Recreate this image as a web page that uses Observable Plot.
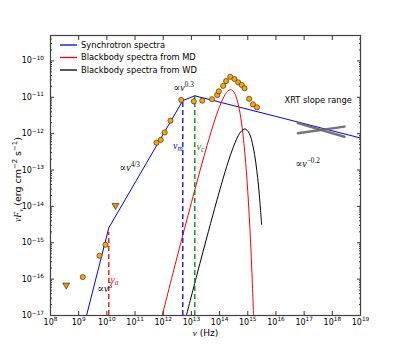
<!DOCTYPE html>
<html><head><meta charset="utf-8">
<script src="https://cdn.jsdelivr.net/npm/d3@7"></script>
<script src="https://cdn.jsdelivr.net/npm/@observablehq/plot@0.6"></script>
<style>body{margin:0;background:#fff}</style>
</head><body><div id="chart"></div>
<script>
// ---------- values ----------
// synchrotron broken power law (break points)
const syncNu   = [1.9e9, 1.17e10, 4.95e12, 1.32e13, 1e19];
const syncFlux = [1e-17, 2.57e-15, 8.13e-12, 1.10e-11, 7.6e-13];

// blackbody from MD (red)
const mdNu   = [9.2e11, 3.16e12, 1e13, 2.51e13, 5.01e13, 7.94e13, 1e14, 1.26e14, 1.58e14, 1.78e14, 2.0e14, 2.51e14, 3.16e14, 3.55e14, 3.98e14, 5.01e14, 6.31e14, 7.08e14, 7.94e14, 8.91e14, 1e15, 1.12e15, 1.26e15, 1.41e15, 1.58e15, 1.62e15];
const mdFlux = [1e-17, 4.25e-16, 1.27e-14, 1.77e-13, 1.13e-12, 3.43e-12, 5.58e-12, 8.55e-12, 1.20e-11, 1.37e-11, 1.51e-11, 1.62e-11, 1.42e-11, 1.22e-11, 9.64e-12, 4.68e-12, 1.48e-12, 6.84e-13, 2.72e-13, 9.25e-14, 2.58e-14, 5.81e-15, 1.04e-15, 1.42e-16, 1.44e-17, 1e-17];

// blackbody from WD (black)
const wdNu   = [6.62e12, 1.58e13, 3.98e13, 7.94e13, 1.58e14, 2.51e14, 3.98e14, 5.62e14, 7.94e14, 1.12e15, 1.58e15, 2.24e15, 2.63e15, 3.09e15];
const wdFlux = [1e-17, 1.34e-16, 2.0e-15, 1.43e-14, 9.14e-14, 2.78e-13, 6.98e-13, 1.12e-12, 1.35e-12, 1.03e-12, 4.06e-13, 6.18e-14, 1.67e-14, 3.21e-15];

// observed fluxes (orange circles)
const obsNu   = [1.40e9, 5.48e9, 8.95e9, 5.78e11, 8.20e11, 1.13e12, 1.81e12, 4.35e12, 1.22e13, 2.42e13, 5.38e13, 8.22e13, 9.38e13, 1.34e14, 1.70e14, 2.38e14, 3.38e14, 4.58e14, 6.10e14, 7.66e14, 1.12e15, 1.53e15, 2.13e15];
const obsFlux = [1.14e-16, 4.40e-16, 8.83e-16, 5.65e-13, 6.75e-13, 1.08e-12, 2.28e-12, 8.45e-12, 7.74e-12, 8.09e-12, 8.85e-12, 1.16e-11, 1.46e-11, 2.06e-11, 2.80e-11, 3.66e-11, 3.16e-11, 2.58e-11, 2.19e-11, 1.77e-11, 9.08e-12, 6.37e-12, 5.30e-12];

// upper limits (down triangles)
const limNu   = [3.61e8, 2.03e10];
const limFlux = [6.87e-17, 1.06e-14];

// XRT slope range (two grey segments)
const xrtNu   = [5.97e16, 2.71e18];
const xrtHard = [1.95e-12, 8.26e-13];
const xrtSoft = [1.03e-12, 1.56e-12];

// characteristic frequencies (dashed verticals)
const breakNames = ["a", "m", "c"];
const breakNu    = [1.17e10, 4.95e12, 1.32e13];
const breakTop   = [1.95e-15, 8.13e-12, 1.10e-11];

// annotations
const annText = ["∝$ν$^{0.3}", "∝$ν$^{4/3}", "$ν$_{$m$}", "$ν$_{$c$}", "$ν$_{$a$}", "∝$ν$^{3}", "XRT slope range", "∝$ν$^{−0.2}"];
const annNu   = [2.32e12, 2.81e10, 2.22e12, 1.52e13, 1.35e10, 4.54e9, 2.01e16, 4.94e16];
const annFlux = [1.85e-11, 1.16e-13, 4.68e-13, 4.39e-13, 9.59e-17, 5.43e-17, 8.09e-12, 1.47e-13];

// axes
const xTicks = [1e8, 1e9, 1e10, 1e11, 1e12, 1e13, 1e14, 1e15, 1e16, 1e17, 1e18, 1e19];
const yTicks = [1e-17, 1e-16, 1e-15, 1e-14, 1e-13, 1e-12, 1e-11, 1e-10];
const xDomain = [1e8, 1e19];
const yDomain = [1e-17, 5e-10];
const legendLabels = ["Synchrotron spectra", "Blackbody spectra from MD", "Blackbody spectra from WD"];

// ---------- styles ----------
const C_SYNC = "#0000ff", C_MD = "#ff0000", C_WD = "#000000";
const breakColor = {a: "#ff0000", m: "#0000ff", c: "#008000"};
const annColor = ["#000", "#000", "#0000ff", "#008000", "#ff0000", "#000", "#000", "#000"];
const legendColors = [C_SYNC, C_MD, C_WD];
const SERIF = "Liberation Serif, DejaVu Serif, serif";

const rows = (xs, ys) => xs.map((x, i) => ({x, y: ys[i]}));
const yMinor = [];
for (let e = -17; e <= -10; e++) for (let m = 2; m <= 9; m++) { const v = m * 10 ** e; if (v < yDomain[1]) yMinor.push(v); }

const fmtPow = d => { const e = Math.round(Math.log10(d)); return `10^{${e < 0 ? "\u2212" + (-e) : e}}`; };
const blank = () => "";

const annRows = annText.map((t, i) => ({t, x: annNu[i], y: annFlux[i], c: annColor[i], serif: !t.startsWith("XRT")}));
const breakRows = breakNames.map((n, i) => ({n, x: breakNu[i], y2: breakTop[i], y1: yDomain[0]}));

const chart = Plot.plot({
  width: 400, height: 350,
  marginLeft: 50, marginRight: 40, marginTop: 35, marginBottom: 35,
  x: {type: "log", domain: xDomain},
  y: {type: "log", domain: yDomain},
  style: {fontFamily: "DejaVu Sans", fontSize: "8px", background: "#fff"},
  marks: [
    // curves
    Plot.line(rows(syncNu, syncFlux), {x: "x", y: "y", stroke: C_SYNC, strokeWidth: 1}),
    Plot.line(rows(mdNu, mdFlux), {x: "x", y: "y", stroke: C_MD, strokeWidth: 1, curve: "catmull-rom"}),
    Plot.line(rows(wdNu, wdFlux), {x: "x", y: "y", stroke: C_WD, strokeWidth: 1, curve: "catmull-rom"}),
    // dashed verticals
    ...breakRows.map(r => Plot.ruleX([r], {x: "x", y1: "y1", y2: "y2", stroke: breakColor[r.n], strokeWidth: 1.3, strokeDasharray: "5,3"})),
    // XRT slope range
    Plot.line(rows(xrtNu, xrtHard), {x: "x", y: "y", stroke: "#666", strokeWidth: 2.5, strokeOpacity: 0.9}),
    Plot.line(rows(xrtNu, xrtSoft), {x: "x", y: "y", stroke: "#666", strokeWidth: 2.5, strokeOpacity: 0.9}),
    // data
    Plot.dot(rows(obsNu, obsFlux), {x: "x", y: "y", r: 2.6, fill: "orange", stroke: "#000", strokeWidth: 0.5}),
    Plot.dot(rows(limNu, limFlux), {x: "x", y: "y", r: 2.6, symbol: "triangle", rotate: 180, fill: "#e59400", stroke: "#000", strokeWidth: 0.5}),
    // annotations
    Plot.text(annRows.filter(d => d.serif), {x: "x", y: "y", text: "t", fill: d => d.c, textAnchor: "start", fontFamily: SERIF, fontSize: 10}),
    Plot.text(annRows.filter(d => !d.serif), {x: "x", y: "y", text: "t", fill: d => d.c, textAnchor: "start", fontSize: 8.3}),
    // axes: labels
    Plot.axisX({ticks: xTicks, tickSize: 0, tickPadding: 3.5, tickFormat: fmtPow, label: null}),
    Plot.axisY({ticks: yTicks, tickSize: 0, tickPadding: 6.5, tickFormat: fmtPow, label: null}),
    // inward ticks
    Plot.axisX({ticks: xTicks, tickSize: 4, dy: -4, tickFormat: blank, label: null, stroke: "#333"}),
    Plot.axisX({anchor: "top", ticks: xTicks, tickSize: 4, dy: 4, tickFormat: blank, label: null, stroke: "#333"}),
    Plot.axisY({ticks: yTicks, tickSize: 4, dx: 4, tickFormat: blank, label: null, stroke: "#333"}),
    Plot.axisY({anchor: "right", ticks: yTicks, tickSize: 4, dx: -4, tickFormat: blank, label: null, stroke: "#333"}),
    Plot.axisY({ticks: yMinor, tickSize: 2, dx: 2, tickFormat: blank, label: null, stroke: "#333"}),
    Plot.axisY({anchor: "right", ticks: yMinor, tickSize: 2, dx: -2, tickFormat: blank, label: null, stroke: "#333"}),
    Plot.frame({stroke: "#404040", strokeWidth: 1.2}),
    // axis titles
    Plot.text(["$ν$ (Hz)"], {frameAnchor: "bottom", dy: 20, fontSize: 9, textAnchor: "middle"}),
    Plot.text(["$νF$_{$ν$} (erg cm^{\u22122} s^{\u22121})"], {frameAnchor: "left", dx: -33, dy: 4, rotate: -90, fontSize: 9.5, textAnchor: "middle"})
  ]
});
document.getElementById("chart").append(chart);

// legend (inside the frame, top-left)
const svgSel = d3.select(chart);
const lg = svgSel.append("g").attr("font-family", "DejaVu Sans").attr("font-size", 8.3).attr("text-anchor", "start");
legendLabels.forEach((lab, i) => {
  const y = 45 + i * 12.5;
  lg.append("path").attr("d", `M60,${y}H77`).attr("fill", "none").attr("stroke", legendColors[i]).attr("stroke-width", 1.3);
  lg.append("text").attr("x", 81).attr("y", y).attr("dy", "0.33em").attr("text-anchor", "start").attr("fill", "#000").text(lab);
});

// rich text: $...$ italic serif, ^{..} superscript, _{..} subscript
function parseRich(s) {
  const segs = []; let ital = false, buf = "", i = 0;
  const flush = () => { if (buf) segs.push({txt: buf, ital, kind: null}); buf = ""; };
  while (i < s.length) {
    const c = s[i];
    if (c === "$") { flush(); ital = !ital; i++; }
    else if ((c === "^" || c === "_") && s[i + 1] === "{") {
      flush();
      const j = s.indexOf("}", i);
      const inner = s.slice(i + 2, j);
      let it = ital, b = "";
      for (const ch of inner) {
        if (ch === "$") { if (b) segs.push({txt: b, ital: it, kind: c}); b = ""; it = !it; }
        else b += ch;
      }
      if (b) segs.push({txt: b, ital: it, kind: c});
      i = j + 1;
    } else { buf += c; i++; }
  }
  flush();
  return segs;
}
function richify(svg) {
  const NS = "http://www.w3.org/2000/svg";
  svg.querySelectorAll("text").forEach(t => {
    if (t.children.length) return;
    const s = t.textContent;
    if (!/[$]|[\^_]\{/.test(s)) return;
    const fs = parseFloat(getComputedStyle(t).fontSize) || 8;
    t.textContent = "";
    let shift = 0;
    for (const seg of parseRich(s)) {
      const sp = document.createElementNS(NS, "tspan");
      const target = seg.kind === "^" ? -0.42 * fs : seg.kind === "_" ? 0.22 * fs : 0;
      if (target !== shift) sp.setAttribute("dy", target - shift);
      shift = target;
      if (seg.kind) sp.setAttribute("font-size", (0.72 * fs).toFixed(2));
      if (seg.ital) { sp.setAttribute("font-style", "italic"); sp.setAttribute("font-family", SERIF); }
      sp.textContent = seg.txt;
      t.appendChild(sp);
    }
  });
}
richify(chart);
</script>
</body></html>
